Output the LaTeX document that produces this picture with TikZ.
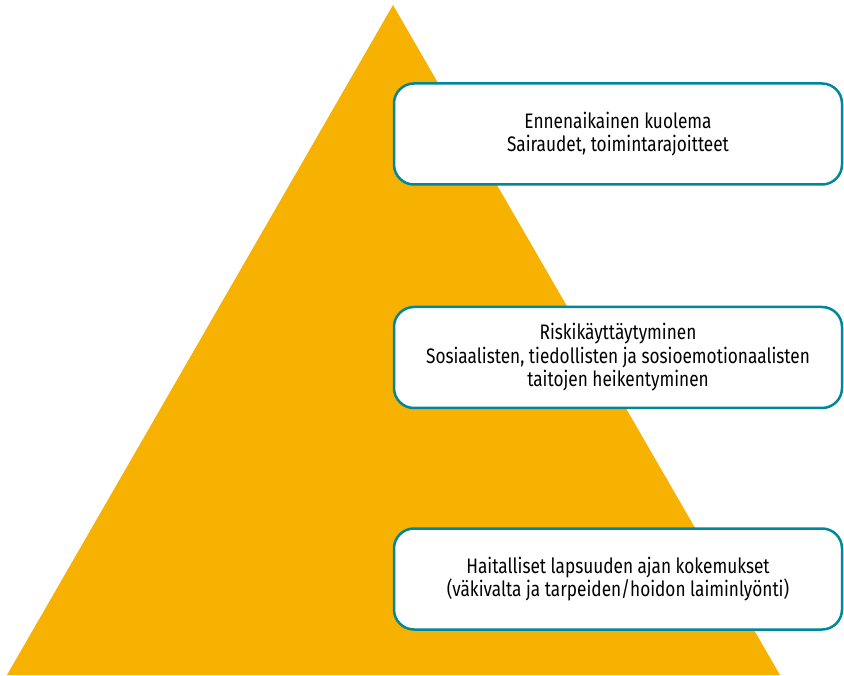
\documentclass[tikz,border=0pt]{standalone}
\usepackage{fontspec}
\setmainfont{Fira Sans}[FakeStretch=0.82]
\definecolor{pyramid}{HTML}{F7B100}
\definecolor{boxline}{HTML}{00879A}
\tikzset{
	tasobox/.style={draw=boxline,line width=2.5pt,fill=white,rounded corners=20pt,
		minimum width=448pt,minimum height=101pt,align=center,inner sep=0pt,
		font=\fontsize{21}{23.5}\selectfont}
}
\begin{document}
\begin{tikzpicture}[x=1pt,y=-1pt,line join=round]
				\useasboundingbox (0,0) rectangle (844,676);
				\path
				(393,5) coordinate (T)
				(7,675) coordinate (L)
				(780,675) coordinate (R)
				;
				\fill[pyramid] (T)--(R)--(L)--cycle;
				\node[tasobox] (ylin) at (618,134) {Ennenaikainen kuolema\\Sairaudet, toimintarajoitteet};
				\node[tasobox] (keski) at (618,357.5) {Riskikäyttäytyminen\\Sosiaalisten, tiedollisten ja sosioemotionaalisten\\taitojen heikentyminen};
				\node[tasobox] (alin) at (618,579) {Haitalliset lapsuuden ajan kokemukset\\(väkivalta ja tarpeiden/hoidon laiminlyönti)};
			\end{tikzpicture}
\end{document}
